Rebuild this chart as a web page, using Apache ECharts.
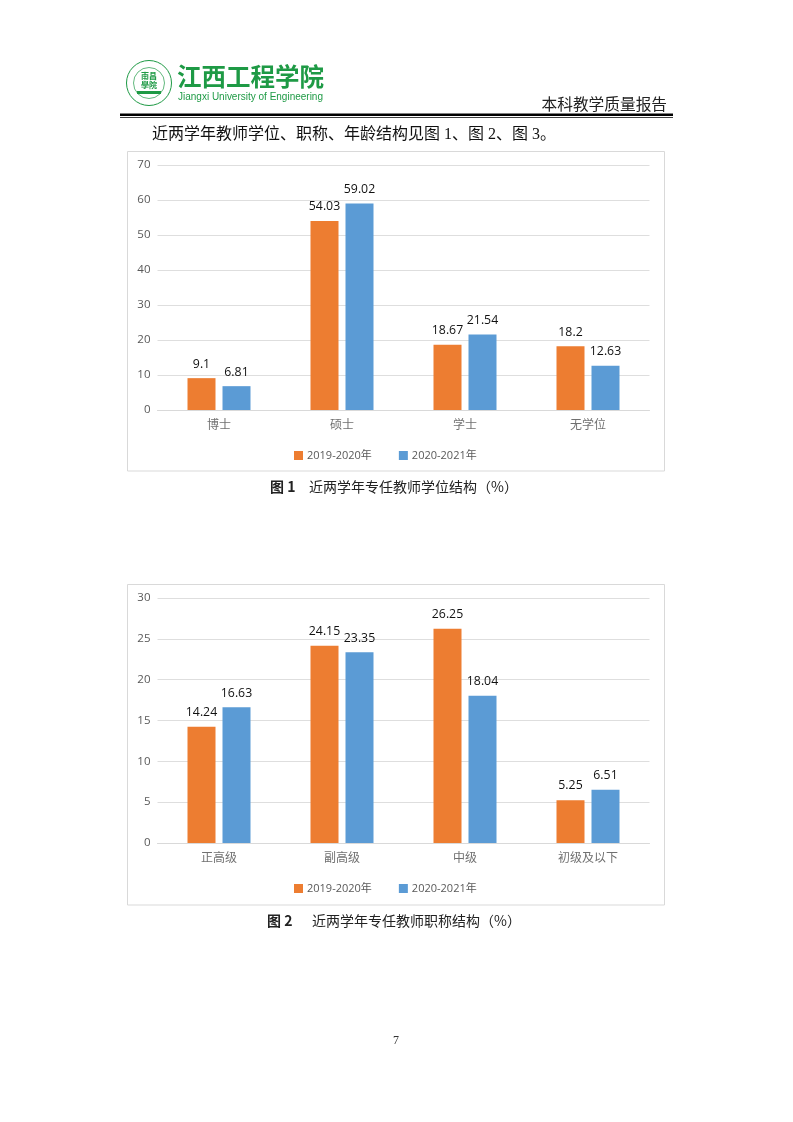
<!DOCTYPE html>
<html><head><meta charset="utf-8">
<style>html,body{margin:0;padding:0;background:#fff}#c{width:793px;height:1122px}</style>
<script src="https://cdn.jsdelivr.net/npm/echarts@6/dist/echarts.min.js"></script>
</head><body><div id="c"></div>
<script>
const categories1 = ['博士','硕士','学士','无学位'];
const values1a = [9.1,54.03,18.67,18.2];
const values1b = [6.81,59.02,21.54,12.63];
const categories2 = ['正高级','副高级','中级','初级及以下'];
const values2a = [14.24,24.15,26.25,5.25];
const values2b = [16.63,23.35,18.04,6.51];
const seriesNames = ['2019-2020年','2020-2021年'];
const ticks1 = {min:0,max:70,interval:10};
const ticks2 = {min:0,max:30,interval:5};

const CJK = '"Noto Sans CJK SC","Liberation Sans",sans-serif';
const BODY = '"Liberation Serif","Noto Sans CJK SC",serif';
const LAT = '"Open Sans","Noto Sans CJK SC",sans-serif';
const ORANGE = '#ED7D31', BLUE = '#5B9BD5', GREEN = '#1E9A45';

function xAxis(i,cats){return {gridIndex:i,type:'category',data:cats,
  axisLine:{lineStyle:{color:'#d9d9d9',width:1}},axisTick:{show:false},
  axisLabel:{color:'#707070',fontSize:12,fontFamily:CJK,margin:8}};}
function yAxis(i,t){return {gridIndex:i,type:'value',min:t.min,max:t.max,interval:t.interval,
  axisLine:{show:false},axisTick:{show:false},
  splitLine:{lineStyle:{color:'#dedede',width:1}},
  axisLabel:{color:'#595959',fontSize:11.5,fontFamily:LAT,margin:7,padding:[4,0,0,0]}};}
function bar(i,name,data,color){return {type:'bar',name,data,xAxisIndex:i,yAxisIndex:i,
  barWidth:28,barGap:'25%',itemStyle:{color},
  label:{show:true,position:'top',distance:8,color:'#111',fontSize:12.3,fontFamily:LAT},animation:false};}
function legend(i,top){return {data:seriesNames,top,left:289,itemWidth:9,itemHeight:9,itemGap:27,icon:'rect',
  textStyle:{color:'#595959',fontSize:11,fontFamily:LAT,padding:[0,0,0,-1]}};}
function frame(y,h){return {type:'rect',z:-1,shape:{x:127.5,y,width:537,height:h},style:{fill:'#fff',stroke:'#d9d9d9',lineWidth:1}};}
function text(x,y,t,font,fill,align,extra){return Object.assign({type:'text',x,y,style:{text:t,font,fill:fill||'#111',textAlign:align||'left',textVerticalAlign:'middle'}},extra||{});}

const graphic = [
  frame(151.5,319.5), frame(584.5,320.5),
  {type:'rect',shape:{x:120,y:113.5,width:553,height:2.6},style:{fill:'#000'}},
  {type:'rect',shape:{x:120,y:117,width:553,height:0.8},style:{fill:'#000'}},
  {type:'circle',shape:{cx:149,cy:83,r:22.5},style:{fill:'#fff',stroke:GREEN,lineWidth:1}},
  {type:'circle',shape:{cx:149,cy:83,r:15.5},style:{fill:'#fff',stroke:GREEN,lineWidth:0.7}},
  {type:'rect',shape:{x:137,y:91,width:24,height:3},style:{fill:GREEN}},
  text(149,76,'南昌','bold 8px '+CJK,GREEN,'center'),
  text(149,85,'學院','bold 8px '+CJK,GREEN,'center'),
  text(177,77,'江西工程学院','bold 24.5px '+CJK,GREEN),
  text(178,97,'Jiangxi University of Engineering','11.7px "Liberation Sans",sans-serif',GREEN,'left',{scaleX:0.855}),
  text(667,104,'本科教学质量报告','15.7px '+CJK,'#222','right'),
  text(152,135,'近两学年教师学位、职称、年龄结构见图 1、图 2、图 3。','16px '+BODY,'#111'),
  text(270,487,'图 1','bold 14px '+CJK,'#222'),
  text(309,487,'近两学年专任教师学位结构（%）','14px '+CJK,'#222'),
  text(267,921,'图 2','bold 14px '+CJK,'#222'),
  text(312,921,'近两学年专任教师职称结构（%）','14px '+CJK,'#222'),
  text(396,1041,'7','12px '+BODY,'#333','center')
];

echarts.init(document.getElementById('c'),null,{renderer:'canvas'}).setOption({
  animation:false,
  backgroundColor:'#fff',
  color:[ORANGE,BLUE],
  grid:[{left:157.5,top:165,width:492,height:245},{left:157.5,top:598,width:492,height:245}],
  xAxis:[xAxis(0,categories1),xAxis(1,categories2)],
  yAxis:[yAxis(0,ticks1),yAxis(1,ticks2)],
  legend:[legend(0,445),legend(1,878)],
  series:[bar(0,seriesNames[0],values1a,ORANGE),bar(0,seriesNames[1],values1b,BLUE),
          bar(1,seriesNames[0],values2a,ORANGE),bar(1,seriesNames[1],values2b,BLUE)],
  graphic
});
</script></body></html>
